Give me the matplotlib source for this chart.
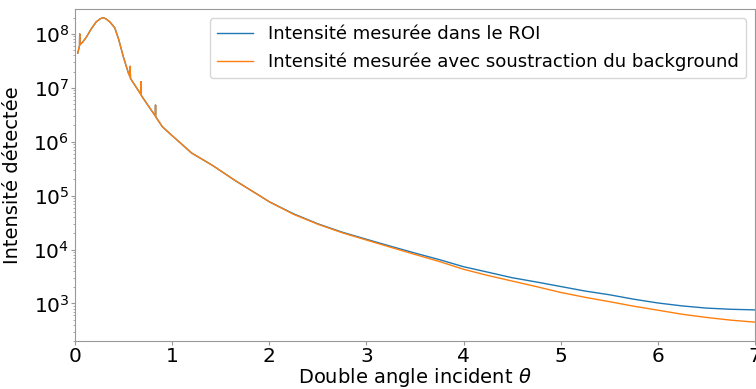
import matplotlib.pyplot as plt

# angle (deg) and detected intensity, ROI and background-subtracted
angle = [0.03, 0.048, 0.05, 0.052, 0.08, 0.12, 0.17, 0.22, 0.26, 0.29, 0.32, 0.36,
         0.41, 0.45, 0.50, 0.55, 0.568, 0.57, 0.572, 0.62, 0.678, 0.68, 0.682,
         0.75, 0.828, 0.83, 0.832, 0.9, 1.0, 1.1, 1.2, 1.42, 1.65, 1.9, 2.0,
         2.25, 2.5, 2.75, 3.0, 3.25, 3.5, 3.75, 4.0, 4.25, 4.5, 4.75, 5.0,
         5.25, 5.5, 5.75, 6.0, 6.25, 6.5, 6.75, 7.0]
roi = [4.4e7, 6.0e7, 1.0e8, 6.3e7, 7.0e7, 8.8e7, 1.25e8, 1.67e8, 1.9e8, 2.0e8, 1.9e8, 1.67e8,
       1.3e8, 8.0e7, 3.7e7, 1.9e7, 1.6e7, 2.5e7, 1.5e7, 1.1e7, 7.6e6, 1.3e7, 7.3e6,
       4.8e6, 3.0e6, 4.8e6, 2.9e6, 1.9e6, 1.3e6, 9.0e5, 6.2e5, 3.6e5, 1.9e5, 1.0e5, 7.7e4,
       4.6e4, 3.0e4, 2.1e4, 1.55e4, 1.15e4, 8.6e3, 6.5e3, 4.8e3, 3.8e3, 3.0e3, 2.5e3, 2.06e3,
       1.7e3, 1.45e3, 1.2e3, 1.02e3, 9.0e2, 8.2e2, 7.8e2, 7.6e2]
sub = [4.4e7, 6.0e7, 1.0e8, 6.3e7, 7.0e7, 8.8e7, 1.25e8, 1.67e8, 1.9e8, 2.0e8, 1.9e8, 1.67e8,
       1.3e8, 8.0e7, 3.7e7, 1.9e7, 1.6e7, 2.5e7, 1.5e7, 1.1e7, 7.6e6, 1.3e7, 7.3e6,
       4.8e6, 3.0e6, 4.8e6, 2.9e6, 1.9e6, 1.3e6, 9.0e5, 6.2e5, 3.6e5, 1.9e5, 1.0e5, 7.7e4,
       4.5e4, 2.95e4, 2.05e4, 1.5e4, 1.1e4, 8.1e3, 6.0e3, 4.3e3, 3.3e3, 2.6e3, 2.05e3, 1.6e3,
       1.3e3, 1.08e3, 8.9e2, 7.5e2, 6.3e2, 5.5e2, 4.9e2, 4.5e2]

fig = plt.figure(figsize=(7.56, 3.89), dpi=100)
ax = fig.add_axes([0.099, 0.123, 0.9, 0.854])
ax.plot(angle, roi, color='tab:blue', lw=1, label='Intensité mesurée dans le ROI')
ax.plot(angle, sub, color='tab:orange', lw=1, label='Intensité mesurée avec soustraction du background')
ax.set_yscale('log')
ax.set_xlim(0, 7)
ax.set_ylim(2e2, 2.9e8)
ax.set_xlabel(r'Double angle incident $\theta$', fontsize=14)
ax.xaxis.set_label_coords(0.5, -0.076)
ax.set_ylabel('Intensité détectée', fontsize=14)
ax.yaxis.set_label_coords(-0.078, 0.5)
ax.tick_params(axis='both', which='major', labelsize=14.5, length=3, color='#999999', pad=1)
ax.tick_params(axis='both', which='minor', length=1.5, color='#999999')
for s in ax.spines.values():
    s.set_color('#999999')
ax.legend(loc='upper right', fontsize=13.1)
fig.savefig('out.png')
